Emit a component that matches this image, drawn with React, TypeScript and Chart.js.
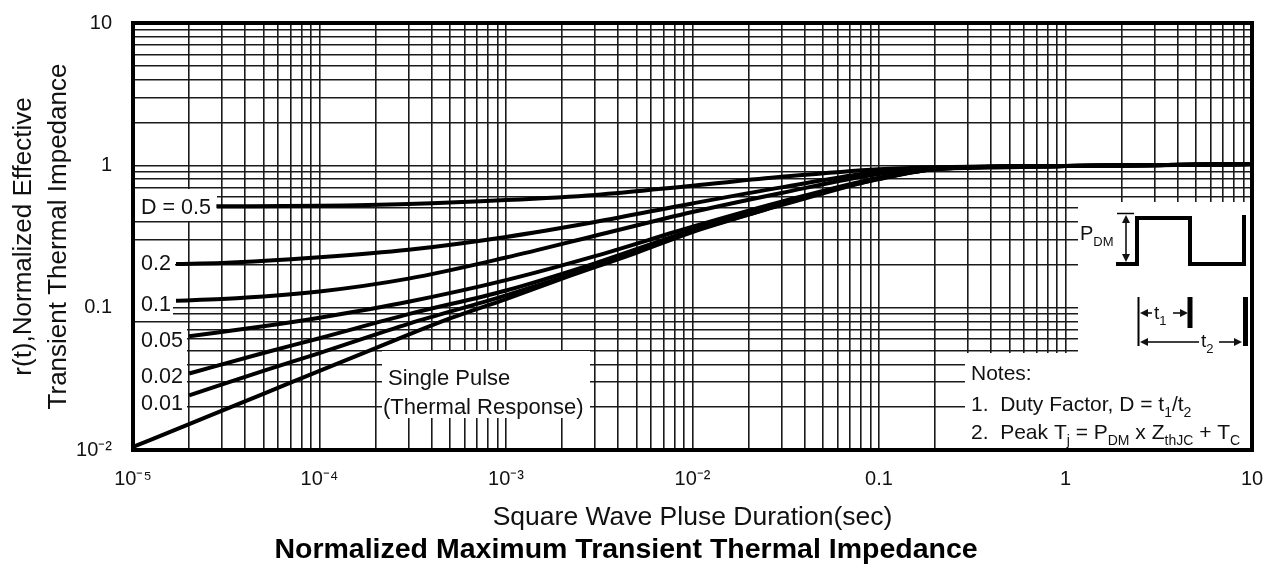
import React, { useEffect, useRef } from 'react';
import { Chart, registerables } from 'chart.js';

Chart.register(...registerables);

const FONT = '"Liberation Sans", Arial, Helvetica, sans-serif';

// axis ranges and tick labels
const X_MIN = 1e-5;
const X_MAX = 10;
const Y_MIN = 0.01;
const Y_MAX = 10;
const X_MAJOR = [1e-5, 1e-4, 1e-3, 1e-2, 0.1, 1, 10];
const X_TICK_LABELS = ['10⁻⁵', '10⁻⁴', '10⁻³', '10⁻²', '0.1', '1', '10'];
const Y_MAJOR = [0.01, 0.1, 1, 10];
const Y_TICK_LABELS = ['10⁻²', '0.1', '1', '10'];

// series: pulse duration (s) and normalized effective transient thermal impedance r(t)
const T_D050 = [2.8e-5, 1e-4, 3e-4, 1e-3, 3e-3, 1e-2, 3e-2, 0.1, 0.2, 1, 10];
const R_D050 = [0.515, 0.52, 0.535, 0.57, 0.62, 0.72, 0.83, 0.94, 0.97, 0.99, 1.02];
const T_D020 = [1.7e-5, 3e-5, 1e-4, 3e-4, 1e-3, 3e-3, 1e-2, 3e-2, 0.1, 0.2, 1, 10];
const R_D020 = [0.203, 0.206, 0.226, 0.255, 0.314, 0.4, 0.54, 0.7, 0.9, 0.96, 0.99, 1.02];
const T_D010 = [1.7e-5, 3e-5, 1e-4, 3e-4, 1e-3, 3e-3, 1e-2, 3e-2, 0.1, 0.2, 1, 10];
const R_D010 = [0.112, 0.115, 0.13, 0.16, 0.225, 0.32, 0.47, 0.64, 0.87, 0.95, 0.99, 1.02];
const T_D005 = [2e-5, 5e-5, 1e-4, 3e-4, 1e-3, 3e-3, 1e-2, 3e-2, 0.1, 0.2, 1, 10];
const R_D005 = [0.063, 0.074, 0.085, 0.11, 0.156, 0.23, 0.37, 0.555, 0.82, 0.945, 0.99, 1.02];
const T_D002 = [2e-5, 5e-5, 1e-4, 3e-4, 1e-3, 3e-3, 1e-2, 3e-2, 0.1, 0.2, 1, 10];
const R_D002 = [0.0345, 0.048, 0.061, 0.09, 0.132, 0.205, 0.35, 0.535, 0.81, 0.94, 0.99, 1.02];
const T_D001 = [2e-5, 5e-5, 1e-4, 3e-4, 1e-3, 3e-3, 1e-2, 3e-2, 0.1, 0.2, 1, 10];
const R_D001 = [0.0242, 0.036, 0.048, 0.077, 0.122, 0.195, 0.345, 0.525, 0.805, 0.94, 0.99, 1.02];
const T_SINGLE = [1e-5, 2e-5, 5e-5, 1e-4, 2e-4, 5e-4, 1e-3, 2e-3, 5e-3, 1e-2, 2e-2, 5e-2, 0.1, 0.2, 0.5, 1, 3, 10];
const R_SINGLE = [0.0105, 0.0152, 0.0248, 0.036, 0.052, 0.084, 0.115, 0.16, 0.243, 0.34, 0.45, 0.65, 0.8, 0.94, 0.97, 0.99, 1.0, 1.02];

const SERIES_NAMES = ['D = 0.5', '0.2', '0.1', '0.05', '0.02', '0.01', 'Single Pulse'];
const SERIES_T = [T_D050, T_D020, T_D010, T_D005, T_D002, T_D001, T_SINGLE];
const SERIES_R = [R_D050, R_D020, R_D010, R_D005, R_D002, R_D001, R_SINGLE];

const X_TITLE = 'Square Wave Pluse Duration(sec)';
const Y_TITLE = ['r(t),Normalized Effective', 'Transient Thermal Impedance'];
const CHART_TITLE = 'Normalized Maximum Transient Thermal Impedance';

// curve labels at the left: text, left x, center y
const CURVE_LABELS: [string, number, number][] = [
  ['D = 0.5', 141, 208],
  ['0.2', 141, 264],
  ['0.1', 141, 305],
  ['0.05', 141, 341],
  ['0.02', 141, 377],
  ['0.01', 141, 404],
];

// white areas behind annotations [x0, y0, x1, y1]
const MASKS: [number, number, number, number][] = [
  [135, 189, 217, 221],
  [135, 248, 175, 280],
  [135, 294, 173, 317],
  [135, 326, 187, 418],
  [382, 351, 590, 418],
  [1078, 202, 1250, 353],
  [965, 353, 1250, 448],
];

function logTicks(min: number, max: number) {
  const out: { value: number }[] = [];
  for (let e = Math.floor(Math.log10(min)); e <= Math.ceil(Math.log10(max)); e++) {
    for (let m = 1; m <= 9; m++) {
      const v = parseFloat((m * Math.pow(10, e)).toPrecision(6));
      if (v >= min * 0.9999 && v <= max * 1.0001) out.push({ value: v });
    }
  }
  return out;
}

function majorLabel(value: number, majors: number[], labels: string[]) {
  const i = majors.findIndex((m) => Math.abs(Math.log10(m) - Math.log10(value)) < 1e-6);
  return i >= 0 ? labels[i] : '';
}

function rich(ctx: CanvasRenderingContext2D, x: number, y: number, parts: [string, boolean][], size: number) {
  let cx = x;
  for (const [txt, sub] of parts) {
    const s = sub ? Math.round(size * 0.66) : size;
    ctx.font = `${s}px ${FONT}`;
    ctx.fillText(txt, cx, sub ? y + size * 0.3 : y);
    cx += ctx.measureText(txt).width;
  }
}

function arrowHead(ctx: CanvasRenderingContext2D, x: number, y: number, dx: number, dy: number) {
  const len = 8;
  const hw = 4;
  const px = -dy;
  const py = dx;
  ctx.beginPath();
  ctx.moveTo(x, y);
  ctx.lineTo(x - dx * len + px * hw, y - dy * len + py * hw);
  ctx.lineTo(x - dx * len - px * hw, y - dy * len - py * hw);
  ctx.closePath();
  ctx.fill();
}

function seg(ctx: CanvasRenderingContext2D, x1: number, y1: number, x2: number, y2: number, w: number) {
  ctx.lineWidth = w;
  ctx.beginPath();
  ctx.moveTo(x1, y1);
  ctx.lineTo(x2, y2);
  ctx.stroke();
}

const overlayPlugin = {
  id: 'overlay',
  beforeDraw(chart: any) {
    const ctx = chart.ctx;
    ctx.save();
    ctx.fillStyle = '#fff';
    ctx.fillRect(0, 0, chart.width, chart.height);
    ctx.restore();
  },
  beforeDatasetsDraw(chart: any) {
    const ctx = chart.ctx;
    ctx.save();
    ctx.fillStyle = '#fff';
    for (const [x0, y0, x1, y1] of MASKS) ctx.fillRect(x0, y0, x1 - x0, y1 - y0);
    ctx.restore();
  },
  afterDraw(chart: any) {
    const ctx: CanvasRenderingContext2D = chart.ctx;
    const a = chart.chartArea;
    ctx.save();
    ctx.fillStyle = '#111';
    ctx.strokeStyle = '#000';

    // curve labels
    ctx.font = `21.5px ${FONT}`;
    ctx.textAlign = 'left';
    ctx.textBaseline = 'middle';
    for (const [t, x, y] of CURVE_LABELS) ctx.fillText(t, x, y);

    // single pulse label
    ctx.font = `22px ${FONT}`;
    ctx.fillText('Single Pulse', 388, 379);
    ctx.fillText('(Thermal Response)', 383, 408);

    // notes
    ctx.textBaseline = 'alphabetic';
    ctx.font = `21px ${FONT}`;
    ctx.fillText('Notes:', 971, 380);
    rich(ctx, 971, 411, [['1.  Duty Factor, D = t', false], ['1', true], ['/t', false], ['2', true]], 21);
    rich(ctx, 971, 439, [['2.  Peak T', false], ['j', true], [' = P', false], ['DM', true], [' x Z', false], ['thJC', true], [' + T', false], ['C', true]], 21);

    // pulse waveform
    ctx.lineJoin = 'miter';
    ctx.lineCap = 'butt';
    ctx.lineWidth = 4;
    ctx.beginPath();
    ctx.moveTo(1116, 264);
    ctx.lineTo(1137, 264);
    ctx.lineTo(1137, 218);
    ctx.lineTo(1190, 218);
    ctx.lineTo(1190, 264);
    ctx.lineTo(1244, 264);
    ctx.lineTo(1244, 215);
    ctx.stroke();

    // P_DM dimension
    seg(ctx, 1117, 213.5, 1134, 213.5, 1.5);
    seg(ctx, 1126, 222, 1126, 254, 1.5);
    arrowHead(ctx, 1126, 215, 0, -1);
    arrowHead(ctx, 1126, 262, 0, 1);
    rich(ctx, 1080, 240, [['P', false], ['DM', true]], 20);

    // t1 / t2 dimensions
    seg(ctx, 1138.5, 297, 1138.5, 346, 2);
    seg(ctx, 1190, 297, 1190, 328, 5);
    seg(ctx, 1245.5, 297, 1245.5, 346, 5);
    seg(ctx, 1146, 313, 1152, 313, 1.5);
    seg(ctx, 1173, 313, 1181, 313, 1.5);
    arrowHead(ctx, 1140, 313, -1, 0);
    arrowHead(ctx, 1188, 313, 1, 0);
    rich(ctx, 1154, 319, [['t', false], ['1', true]], 19);
    seg(ctx, 1146, 342, 1199, 342, 1.5);
    seg(ctx, 1219, 342, 1236, 342, 1.5);
    arrowHead(ctx, 1140, 342, -1, 0);
    arrowHead(ctx, 1242, 342, 1, 0);
    rich(ctx, 1201, 347, [['t', false], ['2', true]], 19);

    // plot frame
    ctx.strokeStyle = '#000';
    ctx.lineWidth = 4;
    ctx.strokeRect(a.left, a.top, a.right - a.left, a.bottom - a.top);
    ctx.restore();
  },
};

export default function App() {
  const ref = useRef<HTMLCanvasElement>(null);

  useEffect(() => {
    const canvas = ref.current;
    if (!canvas) return;
    const datasets = SERIES_NAMES.map((name, i) => ({
      label: name,
      data: SERIES_T[i].map((t, j) => ({ x: t, y: SERIES_R[i][j] })),
      showLine: true,
      borderColor: '#000',
      backgroundColor: '#000',
      borderWidth: 4,
      pointRadius: 0,
      pointHoverRadius: 0,
      fill: false,
      cubicInterpolationMode: 'monotone' as const,
    }));

    const gridOpts = { color: '#1a1a1a', lineWidth: 1.6, drawTicks: false };

    const chart = new Chart(canvas, {
      type: 'scatter',
      data: { datasets },
      plugins: [overlayPlugin],
      options: {
        responsive: false,
        animation: false,
        devicePixelRatio: 1,
        layout: { padding: { left: 0, top: 23, right: 17, bottom: 0 } },
        plugins: {
          legend: { display: false },
          tooltip: { enabled: false },
          title: {
            display: true,
            position: 'bottom',
            text: CHART_TITLE,
            color: '#000',
            font: { family: FONT, size: 28.5, weight: 'bold', lineHeight: 1.2 },
            padding: { top: 3, bottom: 3 },
          },
        },
        scales: {
          x: {
            type: 'logarithmic',
            min: X_MIN,
            max: X_MAX,
            afterBuildTicks: (scale: any) => {
              scale.ticks = logTicks(X_MIN, X_MAX);
            },
            afterFit: (scale: any) => {
              scale.height = 79.8;
              scale.paddingLeft = 0;
              scale.paddingRight = 0;
              scale.paddingTop = 0;
              scale.paddingBottom = 0;
            },
            grid: gridOpts,
            border: { display: false },
            ticks: {
              autoSkip: false,
              maxRotation: 0,
              minRotation: 0,
              padding: 17,
              color: '#111',
              font: { family: FONT, size: 20 },
              callback: (v: any) => majorLabel(Number(v), X_MAJOR, X_TICK_LABELS),
            },
            title: {
              display: true,
              text: X_TITLE,
              color: '#111',
              font: { family: FONT, size: 26.5, lineHeight: 0.85 },
              padding: { top: 0, bottom: 1 },
            },
          },
          y: {
            type: 'logarithmic',
            min: Y_MIN,
            max: Y_MAX,
            afterBuildTicks: (scale: any) => {
              scale.ticks = logTicks(Y_MIN, Y_MAX);
            },
            afterFit: (scale: any) => {
              scale.width = 133;
              scale.paddingLeft = 0;
              scale.paddingRight = 0;
              scale.paddingTop = 0;
              scale.paddingBottom = 0;
            },
            grid: gridOpts,
            border: { display: false },
            ticks: {
              autoSkip: false,
              padding: 21,
              color: '#111',
              font: { family: FONT, size: 20 },
              callback: (v: any) => majorLabel(Number(v), Y_MAJOR, Y_TICK_LABELS),
            },
            title: {
              display: true,
              text: Y_TITLE,
              color: '#111',
              font: { family: FONT, size: 26, lineHeight: 1.35 },
              padding: { top: 6, bottom: 0 },
            },
          },
        },
      } as any,
    });
    return () => chart.destroy();
  }, []);

  return (
    <canvas
      ref={ref}
      width={1269}
      height={570}
      style={{ position: 'fixed', left: 0, top: 0, width: 1269, height: 570, display: 'block' }}
    />
  );
}
